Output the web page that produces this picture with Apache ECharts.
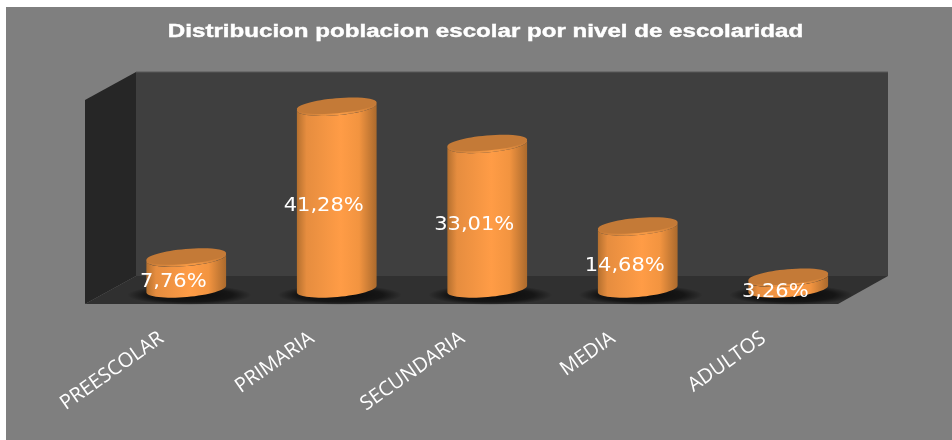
<!DOCTYPE html>
<html>
<head>
<meta charset="utf-8">
<style>
  html, body { margin: 0; padding: 0; background: #fff; }
  #chart { width: 952px; height: 440px; }
</style>
</head>
<body>
<div id="chart"></div>
<script src="https://cdn.jsdelivr.net/npm/echarts@6/dist/echarts.min.js"></script>
<script>
const chartTitle = 'Distribucion poblacion escolar por nivel de escolaridad'
const categories = ['PREESCOLAR', 'PRIMARIA', 'SECUNDARIA', 'MEDIA', 'ADULTOS']
const percents = [7.76, 41.28, 33.01, 14.68, 3.26]

// body gradient, dark at the edges and bright just right of the middle
function bodyFill() {
  return new echarts.graphic.LinearGradient(0, 0, 1, 0, [
    { offset: 0, color: '#b5702f' },
    { offset: 0.12, color: '#e68d3f' },
    { offset: 0.55, color: '#ff9c46' },
    { offset: 0.78, color: '#f29440' },
    { offset: 1, color: '#ab6a2d' }
  ])
}

function rimFill() {
  return new echarts.graphic.LinearGradient(0, 0, 1, 0, [
    { offset: 0, color: '#c47a37' },
    { offset: 0.55, color: '#f89b46' },
    { offset: 1, color: '#c47a37' }
  ])
}

// floor shadow, fades out from the middle
function shadowFill() {
  return new echarts.graphic.RadialGradient(0.5, 0.5, 0.5, [
    { offset: 0, color: 'rgba(0,0,0,0.8)' },
    { offset: 0.7, color: 'rgba(0,0,0,0.55)' },
    { offset: 1, color: 'rgba(0,0,0,0)' }
  ])
}

// points along half of a tilted ellipse
function arc(cx, cy, rx, ry, tilt, from, to) {
  const pts = []
  for (let i = 0; i <= 32; i++) {
    const a = from + (to - from) * i / 32
    const ex = rx * Math.cos(a)
    const ey = ry * Math.sin(a)
    pts.push([cx + ex * Math.cos(tilt) - ey * Math.sin(tilt), cy + ex * Math.sin(tilt) + ey * Math.cos(tilt)])
  }
  return pts
}

function renderCylinder(params, api) {
  const val = api.value(1)
  const top = api.coord([api.value(0), val])
  // the cylinders stand a little above the zero line of the axis
  const baseY = api.coord([api.value(0), 0])[1] - 4
  const rx = 40
  const ry = 8
  const tilt = -5 * Math.PI / 180
  const cx = top[0]
  // left to right along the front of the base, then back over the top rim
  const bottomEdge = arc(cx, baseY, rx, ry, tilt, Math.PI, 0)
  const topEdge = arc(cx, top[1], rx, ry, tilt, 0, Math.PI)
  return {
    type: 'group',
    children: [
      {
        type: 'circle',
        x: cx + 3,
        y: baseY + 6,
        scaleY: 0.16,
        shape: { cx: 0, cy: 0, r: 62 },
        style: { fill: shadowFill() }
      },
      {
        type: 'polygon',
        shape: { points: bottomEdge.concat(topEdge) },
        style: { fill: bodyFill() }
      },
      {
        type: 'ellipse',
        x: cx,
        y: top[1],
        rotation: -tilt,
        shape: { cx: 0, cy: 0, rx: rx, ry: ry },
        style: { fill: rimFill() }
      },
      {
        type: 'ellipse',
        x: cx,
        y: top[1] - 1.5,
        rotation: -tilt,
        shape: { cx: 0, cy: 0, rx: rx, ry: ry - 0.5 },
        style: { fill: '#c47a37' }
      },
      {
        type: 'text',
        x: cx - 13,
        y: (top[1] + baseY) / 2 + 8,
        scaleX: 1.05,
        style: {
          text: val.toFixed(2).replace('.', ',') + '%',
          fill: '#fff',
          font: '20px "DejaVu Sans"',
          align: 'center',
          verticalAlign: 'middle'
        }
      }
    ]
  }
}

const chart = echarts.init(document.getElementById('chart'), null, { renderer: 'canvas' })
chart.setOption({
  animation: false,
  backgroundColor: '#ffffff',
  grid: { left: 111, width: 752.5, top: 90.5, height: 202.5 },
  xAxis: {
    type: 'category',
    data: categories,
    axisLine: { show: false },
    axisTick: { show: false },
    axisLabel: {
      interval: 0,
      rotate: 35,
      margin: 26,
      padding: [0, 30, 0, 0],
      color: '#ffffff',
      fontFamily: 'Open Sans',
      fontSize: 20
    }
  },
  yAxis: { type: 'value', min: 0, max: 45, show: false },
  graphic: [
    { type: 'rect', z: -10, shape: { x: 6, y: 7, width: 946, height: 433 }, style: { fill: '#7f7f7f' } },
    { type: 'polygon', z: -9, shape: { points: [[136, 72], [888, 72], [888, 276], [136, 276]] }, style: { fill: '#3f3f3f' } },
    { type: 'polyline', z: -9, shape: { points: [[136, 72], [888, 72]] }, style: { stroke: '#585858', lineWidth: 1, fill: null } },
    { type: 'polygon', z: -9, shape: { points: [[85, 100], [136, 72], [136, 276], [85, 304]] }, style: { fill: '#262626' } },
    { type: 'polygon', z: -9, shape: { points: [[136, 276], [888, 276], [838, 304], [85, 304]] }, style: { fill: '#303030' } },
    {
      type: 'text',
      x: 485.5,
      y: 32,
      scaleX: 1.34,
      style: {
        text: chartTitle,
        fill: '#ffffff',
        stroke: '#ffffff',
        lineWidth: 0.4,
        font: 'bold 18px "Liberation Sans"',
        align: 'center',
        verticalAlign: 'middle'
      }
    }
  ],
  series: [
    {
      type: 'custom',
      renderItem: renderCylinder,
      data: percents.map((v, i) => [i, v]),
      encode: { x: 0, y: 1 }
    }
  ]
})
</script>
</body>
</html>
